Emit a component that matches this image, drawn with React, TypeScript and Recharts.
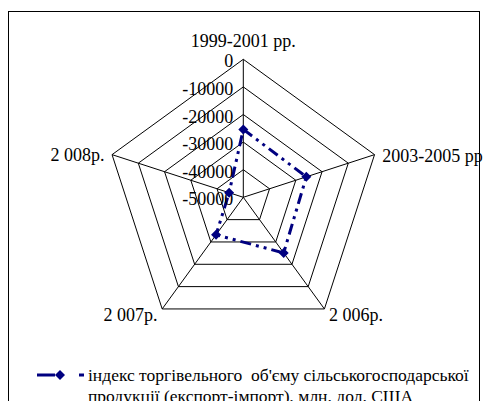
import React from 'react'
import { RadarChart, Radar, PolarGrid, PolarAngleAxis, PolarRadiusAxis } from 'recharts'

const categories = ['1999-2001 рр.', '2003-2005 рр.', '2 006р.', '2 007р.', '2 008р.']
const tradeIndex = [-25400, -26000, -25100, -33200, -44600]
const radiusTicks = [-50000, -40000, -30000, -20000, -10000, 0]
const legendLines = [
    'індекс торгівельного  об\'єму сільськогосподарської',
    'продукції (експорт-імпорт), млн. дол. США',
]

const data = categories.map((name, i) => ({ name, value: tradeIndex[i] }))

const NAVY = '#000080'
const FONT = 'Liberation Serif'

function AngleTick(props: any) {
    const { x, y, payload, textAnchor, index } = props
    let dy = 0
    if (index === 0) dy = -10
    else if (index === 1) dy = 4
    else if (index === 4) dy = 3
    return (
        <text x={x} y={y + dy} textAnchor={textAnchor} dominantBaseline="central"
            style={{ fontFamily: FONT }} fontSize={18} fill="#000">
            {payload.value}
        </text>
    )
}

function RadiusTick(props: any) {
    const { x, y, payload } = props
    return (
        <text x={x - 10} y={y + 2} textAnchor="end" dominantBaseline="central"
            style={{ fontFamily: FONT }} fontSize={18} fill="#000">
            {payload.value}
        </text>
    )
}

function Diamond(props: any) {
    const { cx, cy, index } = props
    const s = 5
    return (
        <polygon key={index} points={`${cx},${cy - s} ${cx + s},${cy} ${cx},${cy + s} ${cx - s},${cy}`} fill={NAVY} />
    )
}

export default function App() {
    return (
        <div style={{ position: 'fixed', left: 0, top: 0, width: 483, height: 401, background: '#fff', overflow: 'hidden', fontFamily: FONT }}>
            <div style={{ position: 'absolute', left: 8, top: 11, width: 470, height: 420, border: '1.5px solid #000' }} />
            <div style={{ position: 'absolute', left: 0, top: 0 }}>
                <RadarChart width={483} height={401} data={data} cx={243.3} cy={197.3} outerRadius={138}
                    margin={{ top: 0, right: 0, bottom: 0, left: 0 }}>
                    <PolarGrid gridType="polygon" stroke="#000" strokeWidth={1} />
                    <PolarAngleAxis dataKey="name" tick={AngleTick} tickLine={false} axisLine={false} />
                    <PolarRadiusAxis angle={90} domain={[-50000, 0]} ticks={radiusTicks as any}
                        tick={RadiusTick} axisLine={false} tickLine={false} />
                    <Radar dataKey="value" stroke={NAVY} strokeWidth={3} strokeDasharray="11 5 3 5 3 5"
                        fill="none" fillOpacity={0} dot={Diamond} isAnimationActive={false} />
                </RadarChart>
            </div>
            <div style={{ position: 'absolute', left: 36, top: 365, display: 'flex', alignItems: 'flex-start' }}>
                <svg width={50} height={20} style={{ flex: 'none' }}>
                    <line x1={1} y1={10} x2={19} y2={10} stroke={NAVY} strokeWidth={3} />
                    <polygon points="24,5 29,10 24,15 19,10" fill={NAVY} />
                    <line x1={43} y1={10} x2={48} y2={10} stroke={NAVY} strokeWidth={3} />
                </svg>
                <div style={{ marginLeft: 2, fontFamily: FONT, fontSize: 17.5, lineHeight: '21px', whiteSpace: 'pre', color: '#000' }}>
                    {legendLines.map((l) => (
                        <div key={l}>{l}</div>
                    ))}
                </div>
            </div>
        </div>
    )
}
